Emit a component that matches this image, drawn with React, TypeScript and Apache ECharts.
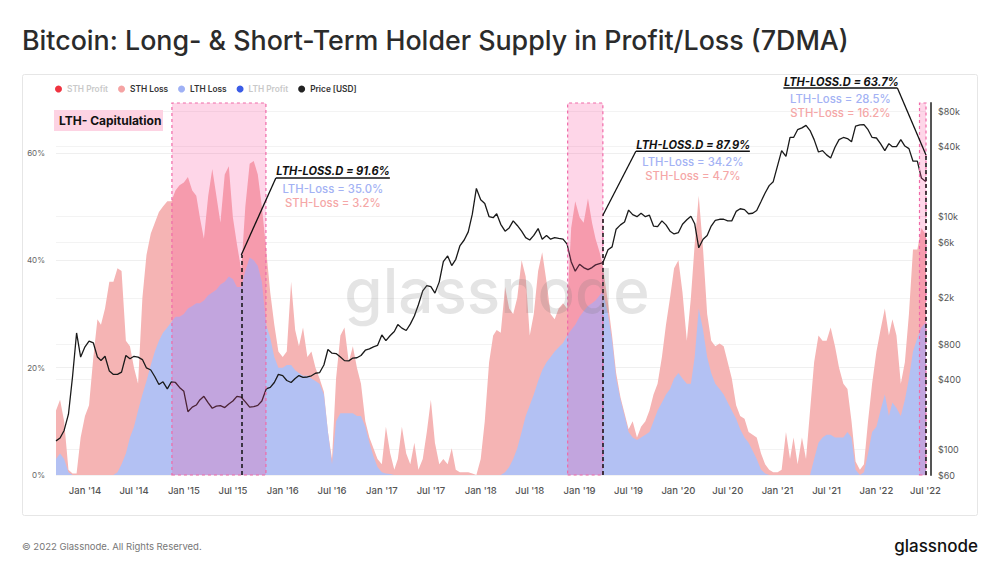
import React, { useEffect, useRef } from "react";
import * as echarts from "echarts";

// ---------- data (semi-monthly samples) ----------
const dates = [
  "2013-09-16","2013-10-01","2013-10-16","2013-11-01","2013-11-16","2013-12-01","2013-12-16",
  "2014-01-01","2014-01-16","2014-02-01","2014-02-16","2014-03-01","2014-03-16","2014-04-01","2014-04-16","2014-05-01","2014-05-16","2014-06-01","2014-06-16","2014-07-01","2014-07-16","2014-08-01","2014-08-16","2014-09-01","2014-09-16","2014-10-01","2014-10-16","2014-11-01","2014-11-16","2014-12-01","2014-12-16",
  "2015-01-01","2015-01-16","2015-02-01","2015-02-16","2015-03-01","2015-03-16","2015-04-01","2015-04-16","2015-05-01","2015-05-16","2015-06-01","2015-06-16","2015-07-01","2015-07-16","2015-08-01","2015-08-16","2015-09-01","2015-09-16","2015-10-01","2015-10-16","2015-11-01","2015-11-16","2015-12-01","2015-12-16",
  "2016-01-01","2016-01-16","2016-02-01","2016-02-16","2016-03-01","2016-03-16","2016-04-01","2016-04-16","2016-05-01","2016-05-16","2016-06-01","2016-06-16","2016-07-01","2016-07-16","2016-08-01","2016-08-16","2016-09-01","2016-09-16","2016-10-01","2016-10-16","2016-11-01","2016-11-16","2016-12-01","2016-12-16",
  "2017-01-01","2017-01-16","2017-02-01","2017-02-16","2017-03-01","2017-03-16","2017-04-01","2017-04-16","2017-05-01","2017-05-16","2017-06-01","2017-06-16","2017-07-01","2017-07-16","2017-08-01","2017-08-16","2017-09-01","2017-09-16","2017-10-01","2017-10-16","2017-11-01","2017-11-16","2017-12-01","2017-12-16",
  "2018-01-01","2018-01-16","2018-02-01","2018-02-16","2018-03-01","2018-03-16","2018-04-01","2018-04-16","2018-05-01","2018-05-16","2018-06-01","2018-06-16","2018-07-01","2018-07-16","2018-08-01","2018-08-16","2018-09-01","2018-09-16","2018-10-01","2018-10-16","2018-11-01","2018-11-16","2018-12-01","2018-12-16",
  "2019-01-01","2019-01-16","2019-02-01","2019-02-16","2019-03-01","2019-03-16","2019-03-28","2019-04-16","2019-05-01","2019-05-16","2019-06-01","2019-06-16","2019-07-01","2019-07-16","2019-08-01","2019-08-16","2019-09-01","2019-09-16","2019-10-01","2019-10-16","2019-11-01","2019-11-16","2019-12-01","2019-12-16",
  "2020-01-01","2020-01-16","2020-02-01","2020-02-16","2020-03-01","2020-03-16","2020-04-01","2020-04-16","2020-05-01","2020-05-16","2020-06-01","2020-06-16","2020-07-01","2020-07-16","2020-08-01","2020-08-16","2020-09-01","2020-09-16","2020-10-01","2020-10-16","2020-11-01","2020-11-16","2020-12-01","2020-12-16",
  "2021-01-01","2021-01-16","2021-02-01","2021-02-16","2021-03-01","2021-03-16","2021-04-01","2021-04-16","2021-05-01","2021-05-16","2021-06-01","2021-06-16","2021-07-01","2021-07-16","2021-08-01","2021-08-16","2021-09-01","2021-09-16","2021-10-01","2021-10-16","2021-11-01","2021-11-16","2021-12-01","2021-12-16",
  "2022-01-01","2022-01-16","2022-02-01","2022-02-16","2022-03-01","2022-03-16","2022-04-01","2022-04-16","2022-05-01","2022-05-16","2022-06-01","2022-06-16","2022-07-03",
];

// % of supply held by long-term holders in loss
const lthLoss = [
  3,4,3,0.5,0,0,0,
  0,0,0,0,0,0,0,0,0.5,2,4,7,9,12,15,17.5,20.5,23,25,26.5,27.5,28.5,29.5,29.5,
  30,31,31.5,32,32,32.5,33.5,34,34.5,35.5,36,37,36.5,35,35,38,40.5,40,39,36,28,25.5,22,20,
  20,20.5,20.5,19.5,19,18.5,18.5,18,17.5,17,15,8,2,10,11.5,11.5,11.5,11.5,11,11,9,6,3.5,1.5,
  0.5,0.3,0.2,0,0,0,0,0,0,0,0,0,0,0,0,0,0,0,0,0,0,0,0,0,
  0,0,0,0,0,0,0.5,1.5,3,5,8,11,13,15,17.5,19.5,21,22,23,23.8,24.6,26,27,28,
  29.5,30.5,31.5,32,32.5,33.5,34.2,30,25,18,14,11,8,7,6.5,7,7.5,8,10,12,13.5,15,16,18,
  19,18,17,17,22,31,27,22,19,17,16,15,13.5,12,10.5,8.5,7,6,4.5,3,1,0.3,0,0,
  0,0,0,0,0,0,0,0,0,3,6,7,7.5,7.5,7,7,7,8,7,1,0,0.5,4,8,
  9,12,15,11,13.5,12.5,11,14,18,23,25.5,27.5,28.5,
];

// % of supply held by short-term holders in loss (drawn on top of LTH loss)
const sthLoss = [
  9,10,7,0.5,0.3,0.3,7,
  11,13,22,29,28,31,36,36,38,36,21,17,11,5,18,23.5,24.5,24,24,23.5,23.5,22.5,23.5,24.5,
  24.5,24.5,21.5,20,16,11.5,18.5,23,17.5,11.5,20,20.5,11.5,8,3.2,12,17.5,18.5,17,14,14,8.5,6,3,
  2,2.5,15.5,7.5,5,9,3.5,5,2.5,1,0.5,0,1,8,14.5,16,9.5,12.5,9,6,1,1,1.5,1.5,
  1.5,8.7,3.8,1,3,9,4,2,6,1,3,8,14,6,2,3,2,5,1,0.5,0.5,0.5,0.3,0,
  3,10,21,26,27,26.5,34.5,29.5,27,28,32,26,13,15,20.5,22,15,8,6,7.2,7.4,5,19,23,
  18.5,16.5,20,15,11.5,8,4.7,2,1,1,0.5,0.5,0.5,3,0.5,2,2.5,4,5,5,8.5,13,17,20.5,
  21,16,8,16,21,21,15,8,6,7,8.5,9,7.5,6,2.5,2.5,3.5,2,3,4,3,1.7,1,0.5,
  0.5,1,8,3,7,2,7,3,12,18,20,18,17.5,20,17,13,10,8,3,1.5,1,1.5,6,9,
  14,15,16,15,15.5,13.5,6,7,12,19,16.5,18.5,16.2,
];

// BTC price (USD, 7DMA)
const priceUsd = [
  118,125,145,200,420,1000,620,
  760,850,820,620,580,630,470,440,440,460,640,600,630,620,590,500,480,420,360,380,330,380,375,340,
  315,210,230,240,265,285,250,225,235,237,228,245,260,285,280,255,230,232,238,260,330,340,375,440,
  430,390,375,405,430,415,418,428,450,455,530,720,670,665,620,578,575,608,612,640,710,730,760,780,
  960,860,950,1030,1180,1100,1050,1190,1400,1750,2300,2550,2500,2200,2750,4100,4600,3800,4300,5600,6300,7400,10500,17500,
  14000,13000,10000,9800,10600,8600,7500,8000,9200,8400,7500,6600,6300,6900,7900,6400,6900,6400,6600,6500,6400,5800,4100,3400,
  3900,3650,3500,3650,3850,3950,4020,5200,5500,7800,8500,9000,11400,10400,10000,10700,10000,10300,8300,8200,9200,8500,7500,7100,
  7300,8600,9400,10100,8700,5400,6400,6900,8300,9300,9500,9500,9200,9200,11100,11700,11500,10600,10700,11300,13500,16000,18500,20000,
  27500,37000,33000,48000,48000,56000,58000,61000,55000,46000,36000,37000,34000,32000,39500,46000,48000,47000,44000,60000,61500,62000,56000,48000,
  47500,42500,37000,42500,40000,40000,46000,40500,38500,30000,30000,21500,20000,
];

const xTicks = [
  "2014-01-01","2014-07-01","2015-01-01","2015-07-01","2016-01-01","2016-07-01","2017-01-01","2017-07-01","2018-01-01",
  "2018-07-01","2019-01-01","2019-07-01","2020-01-01","2020-07-01","2021-01-01","2021-07-01","2022-01-01","2022-07-01",
];
const pctTicks = [0, 20, 40, 60];
const priceTicks = [60, 100, 400, 800, 2000, 6000, 10000, 40000, 80000];

// LTH capitulation windows
const capStart = ["2014-11-18", "2018-11-18", "2022-06-09"];
const capEnd = ["2015-10-31", "2019-03-28", "2022-07-03"];

// annotations
const annDates = ["2015-08-01", "2019-03-28", "2022-07-03"];
const annTop = [41, 48.4, 59.6];
const annLossD = ["91.6%", "87.9%", "63.7%"];
const annLth = ["35.0%", "34.2%", "28.5%"];
const annSth = ["3.2%", "4.7%", "16.2%"];

const FONT = "Inter, 'Noto Sans', sans-serif";
const BLUE = "#b3c1f3";
const PINK = "#f5b4b4";

const ts = (d: string) => Date.parse(d + "T00:00:00Z");
const MON = ["Jan", "Feb", "Mar", "Apr", "May", "Jun", "Jul", "Aug", "Sep", "Oct", "Nov", "Dec"];
function fmtX(v: number) {
  const d = new Date(v);
  return `${MON[d.getUTCMonth()]} '${String(d.getUTCFullYear()).slice(2)}`;
}
function fmtPrice(v: number) {
  const r = Math.round(v);
  return r >= 1000 ? `$${Math.round(r / 1000)}k` : `$${r}`;
}

export default function App() {
  const ref = useRef<HTMLDivElement>(null);
  useEffect(() => {
    const chart = echarts.init(ref.current!, null, { renderer: "svg" });
    const option: any = {
      animation: false,
      backgroundColor: "#ffffff",
      textStyle: { fontFamily: FONT },
      grid: { left: 56, right: 74, top: 103, bottom: 101, containLabel: false },
      legend: {
        left: 50,
        top: 80,
        icon: "circle",
        itemWidth: 7,
        itemHeight: 7,
        itemGap: 10,
        selectedMode: false,
        textStyle: { fontSize: 8.3, fontWeight: 600, color: "#333", fontFamily: FONT },
        data: [
          { name: "STH Profit", itemStyle: { color: "#ef3340" }, textStyle: { color: "#c9c9c9" } },
          { name: "STH Loss", itemStyle: { color: "#f5a3a3" } },
          { name: "LTH Loss", itemStyle: { color: "#9fb1f5" } },
          { name: "LTH Profit", itemStyle: { color: "#3b5ce6" }, textStyle: { color: "#c9c9c9" } },
          { name: "Price [USD]", itemStyle: { color: "#222" } },
        ],
      },
      xAxis: {
        type: "value",
        min: ts(dates[0]),
        max: ts(dates[dates.length - 1]),
        axisLine: { show: false },
        axisTick: { show: false },
        splitLine: { show: false },
        axisLabel: {
          customValues: xTicks.map(ts),
          formatter: fmtX,
          color: "#555",
          fontSize: 9.5,
          fontWeight: 500,
          margin: 10,
          hideOverlap: false,
        },
      },
      yAxis: [
        {
          type: "value",
          min: 0,
          max: 69.3,
          position: "left",
          axisLine: { show: false },
          axisTick: { show: false, customValues: pctTicks },
          axisLabel: { customValues: pctTicks, formatter: "{value}%", color: "#666", fontSize: 8, margin: 11 },
          splitLine: { show: true, lineStyle: { color: "#efefef", width: 1 } },
        },
        {
          type: "log",
          logBase: 10,
          min: 60,
          max: 95000,
          position: "right",
          offset: 5,
          axisLine: { show: true, lineStyle: { color: "#555", width: 2 } },
          axisTick: { show: false, customValues: priceTicks },
          axisLabel: { customValues: priceTicks, formatter: fmtPrice, color: "#555", fontSize: 9, margin: 7 },
          splitLine: { show: true, lineStyle: { color: "#f3f3f3", width: 1 } },
        },
      ],
      series: [
        { name: "STH Profit", type: "line", data: [], color: "#ef3340" },
        {
          // STH loss sits on top of LTH loss: its upper edge is LTH + STH
          name: "STH Loss",
          type: "line",
          symbol: "none",
          z: 2,
          color: "#f5a3a3",
          lineStyle: { width: 0, opacity: 0 },
          areaStyle: { color: PINK, opacity: 1 },
          data: dates.map((d, i) => [ts(d), lthLoss[i] + sthLoss[i]]),
        },
        {
          name: "LTH Loss",
          type: "line",
          symbol: "none",
          z: 2,
          color: "#9fb1f5",
          lineStyle: { width: 0, opacity: 0 },
          areaStyle: { color: BLUE, opacity: 1 },
          data: dates.map((d, i) => [ts(d), lthLoss[i]]),
        },
        { name: "LTH Profit", type: "line", data: [], color: "#3b5ce6" },
        {
          name: "Price [USD]",
          type: "line",
          yAxisIndex: 1,
          symbol: "none",
          z: 3,
          color: "#222",
          lineStyle: { color: "#1a1a1a", width: 1.3 },
          data: dates.map((d, i) => [ts(d), priceUsd[i]]),
        },
        {
          name: "cap",
          type: "line",
          data: [],
          z: 4,
          markArea: {
            silent: true,
            z: 4,
            itemStyle: {
              color: "rgba(250,70,150,0.22)",
              borderColor: "#f06aa8",
              borderWidth: 1.2,
              borderType: [3, 3],
            },
            label: { show: false },
            data: capStart.map((s, i) => [{ xAxis: ts(s) }, { xAxis: ts(capEnd[i]) }]),
          },
          markLine: {
            silent: true,
            z: 6,
            symbol: ["none", "none"],
            label: { show: false },
            lineStyle: { color: "#111", width: 1.5, type: [4, 3] },
            data: annDates.map((d, i) => [{ coord: [ts(d), 0] }, { coord: [ts(d), annTop[i]] }]),
          },
        },
      ],
    };
    chart.setOption(option);

    const offsets = [
      [34.6, -77, 1],
      [33, -64, 1],
      [-28.6, -67, -1],
    ];
    const annElems: any[] = [];
    annDates.forEach((d, i) => {
      const p = chart.convertToPixel({ xAxisIndex: 0, yAxisIndex: 0 }, [ts(d), annTop[i]]) as number[];
      const [dx, dy, side] = offsets[i];
      const lx = p[0] + dx;
      const ly = p[1] + dy;
      const uw = 114;
      const L = side > 0 ? lx : lx - uw;
      annElems.push(
        { type: "line", z: 20, shape: { x1: p[0], y1: p[1], x2: lx, y2: ly }, style: { stroke: "#111", lineWidth: 1.3 } },
        { type: "line", z: 20, shape: { x1: L, y1: ly, x2: L + uw, y2: ly }, style: { stroke: "#111", lineWidth: 1.5 } },
        {
          type: "text", z: 20, x: L + 0.5, y: ly - 6.5,
          style: { text: `LTH-LOSS.D = ${annLossD[i]}`, fontSize: 11.1, fontWeight: 700, fontStyle: "italic", fontFamily: FONT, fill: "#111", textVerticalAlign: "middle" },
        },
        {
          type: "text", z: 20, x: L + uw / 2, y: ly + 11,
          style: { text: `LTH-Loss = ${annLth[i]}`, fontSize: 11.3, fontWeight: 500, fontFamily: FONT, fill: "#a3b2f4", textAlign: "center", textVerticalAlign: "middle" },
        },
        {
          type: "text", z: 20, x: L + uw / 2, y: ly + 25,
          style: { text: `STH-Loss = ${annSth[i]}`, fontSize: 11.3, fontWeight: 500, fontFamily: FONT, fill: "#f5a7a7", textAlign: "center", textVerticalAlign: "middle" },
        }
      );
    });

    chart.setOption({
      graphic: {
        elements: [
          { type: "rect", z: -10, silent: true, shape: { x: 22.5, y: 74.5, width: 955, height: 441, r: 2 }, style: { fill: "#fff", stroke: "#e6e6e6", lineWidth: 1 } },
          {
            type: "text", x: 22, y: 40,
            style: { text: "Bitcoin: Long- & Short-Term Holder Supply in Profit/Loss (7DMA)", fontSize: 26.8, fontWeight: 500, fontFamily: FONT, fill: "#2b2b2b", textVerticalAlign: "middle" },
          },
          { type: "rect", z: 20, shape: { x: 54, y: 110, width: 109, height: 21 }, style: { fill: "#fdd3e3" } },
          {
            type: "text", z: 21, x: 59, y: 120.5,
            style: { text: "LTH- Capitulation", fontSize: 12, fontWeight: 700, fontFamily: FONT, fill: "#111", textVerticalAlign: "middle" },
          },
          {
            type: "text", z: 15, silent: true, x: 497, y: 290,
            style: { text: "glassnode", fontSize: 62, fontWeight: 500, fontFamily: FONT, fill: "rgba(120,120,120,0.2)", textAlign: "center", textVerticalAlign: "middle" },
          },
          {
            type: "text", x: 22, y: 546,
            style: { text: "© 2022 Glassnode. All Rights Reserved.", fontSize: 9.5, fontFamily: FONT, fill: "#777", textVerticalAlign: "middle" },
          },
          {
            type: "text", x: 978, y: 546,
            style: { text: "glassnode", fontSize: 17, fontWeight: 500, fontFamily: FONT, fill: "#111", textAlign: "right", textVerticalAlign: "middle" },
          },
          ...annElems,
        ],
      },
    });

    return () => chart.dispose();
  }, []);

  return (
    <div
      ref={ref}
      style={{ position: "fixed", left: 0, top: 0, width: 1000, height: 576, background: "#fff" }}
    />
  );
}
